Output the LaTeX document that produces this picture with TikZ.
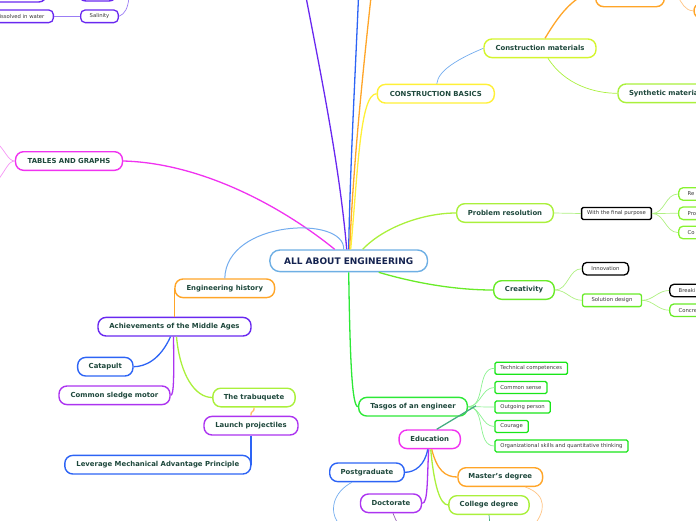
\documentclass[tikz,border=0pt]{standalone}
\usepackage{fontspec}
\setmainfont{DejaVu Sans}
\usetikzlibrary{calc}

%colours of the map
\definecolor{txtgreen}{RGB}{30,72,60}
\definecolor{txtnavy}{RGB}{20,35,80}
\definecolor{txtgray}{RGB}{55,55,55}
\definecolor{cblue}{RGB}{110,175,228}
\definecolor{lblue}{RGB}{115,172,238}
\definecolor{mblue}{RGB}{45,100,245}
\definecolor{mpurple}{RGB}{105,40,240}
\definecolor{vpurple}{RGB}{172,52,240}
\definecolor{lpurple}{RGB}{155,125,245}
\definecolor{mmagenta}{RGB}{240,50,240}
\definecolor{lmagenta}{RGB}{245,150,245}
\definecolor{morange}{RGB}{255,165,40}
\definecolor{lorange}{RGB}{255,195,130}
\definecolor{myellow}{RGB}{255,240,55}
\definecolor{ygreen}{RGB}{212,245,45}
\definecolor{lime}{RGB}{170,240,60}
\definecolor{mgreen}{RGB}{105,235,40}
\definecolor{bgreen}{RGB}{45,232,55}
\definecolor{tgreen}{RGB}{25,230,25}
\definecolor{lgreen}{RGB}{175,240,130}
\definecolor{mteal}{RGB}{70,172,130}

\tikzset{
  bigbox/.style={draw, line width=1.4pt, rounded corners=8pt, fill=white,
    minimum height=18.6pt, inner xsep=5pt, text=txtgreen,
    font=\fontsize{6.9}{8}\selectfont\bfseries},
  roundsmall/.style={draw, line width=1.3pt, rounded corners=4.5pt, fill=white,
    minimum height=12.6pt, inner xsep=9pt, text=txtgray,
    font=\fontsize{5.3}{6}\selectfont},
  rectsmall/.style={draw, line width=1.3pt, rounded corners=1.5pt, fill=white,
    minimum height=12pt, inner xsep=5.5pt, text=txtgray,
    font=\fontsize{5.3}{6}\selectfont},
  link/.style={line width=1.3pt},
  sublink/.style={line width=0.7pt}
}

\begin{document}
\begin{tikzpicture}[x=1pt,y=-1pt]
\useasboundingbox (0,0) rectangle (696,520);

%the centre
\node[bigbox, draw=cblue, text=txtnavy, minimum width=157.6pt, minimum height=21.6pt,
  rounded corners=10pt, font=\fontsize{9}{10}\selectfont\bfseries] (central) at (348.7,260.8) {ALL ABOUT ENGINEERING};

%top left, cut by the edge
\node[bigbox, draw=mpurple, minimum width=80pt, minimum height=24pt] (pa) at (6.7,-10) {};
\node[bigbox, draw=mpurple, minimum width=39pt, minimum height=22pt] (pb) at (97.5,-10) {};
\node[roundsmall, draw=mpurple] (salinity) at (99.5,16.3) {Salinity};
\node[roundsmall, draw=mpurple, anchor=east] (dissolved) at (54,16.3) {Dissolved in water};
\coordinate (csal) at (129,-3);
\draw[sublink, lpurple] (salinity.west) -- (dissolved.east);
\draw[sublink, lpurple] (salinity.east) .. controls (125,14) and (128,8) .. (csal);

%tables
\node[bigbox, draw=mmagenta, minimum width=107pt] (tables) at (69,161) {TABLES AND GRAPHS};
\coordinate (ctab1) at (-3,143);
\coordinate (ctab2) at (-3,181);
\draw[sublink, lmagenta] (tables.west) .. controls (8,161) and (5,150) .. (ctab1);
\draw[sublink, lmagenta] (tables.west) .. controls (8,161) and (5,172) .. (ctab2);
\draw[link, mmagenta] (tables.east) .. controls (200,163) and (280,205) .. ($(central.north)+(-14,0)$);

%the lines going up
\coordinate (ctop1) at (306,-3);
\coordinate (ctop2) at (358.5,-3);
\coordinate (ctop3) at (371,-3);
\draw[link, mpurple] ($(central.north)+(-2,0)$) .. controls (340,170) and (322,80) .. (ctop1);
\draw[link, mblue] (central.north) .. controls (350,170) and (355,80) .. (ctop2);
\draw[link, morange] ($(central.north)+(1,0)$) .. controls (353,170) and (362,80) .. (ctop3);

%construction
\node[bigbox, draw=myellow, minimum width=117pt] (constr) at (435.8,93.7) {CONSTRUCTION BASICS};
\node[bigbox, draw=ygreen, minimum width=112pt] (constrmat) at (540,48.3) {Construction materials};
\node[bigbox, draw=lime, anchor=west, text width=100pt, align=left, inner xsep=11pt] (synth) at (617.3,93.3) {Synthetic materials};
\node[bigbox, draw=morange, minimum width=68.6pt, minimum height=30pt] (ortop) at (630,-8.3) {};
\node[bigbox, draw=morange, anchor=west, minimum width=60pt, minimum height=13.6pt, rounded corners=6pt] (orright) at (693.4,10.8) {};
\coordinate (ctop4) at (580,-3);
\coordinate (ctop5) at (678,-3);
\draw[link, myellow] ($(central.north)+(2,0)$) .. controls (358,170) and (360,93.7) .. (constr.west);
\draw[sublink, lblue] ($(constr.north)+(1,0)$) .. controls (438,70) and (460,58) .. (constrmat.west);
\draw[link, morange] ($(constrmat.north)+(5,0)$) .. controls (556,20) and (566,6) .. (ctop4);
\draw[sublink, lime] ($(constrmat.south)+(8,0)$) .. controls (565,85) and (595,93.3) .. (synth.west);
\draw[sublink, lorange] (orright.west) .. controls (685,10.8) and (682,3) .. (ctop5);

%problem resolution
\node[bigbox, draw=lime, minimum width=96.6pt] (prob) at (505,213) {Problem resolution};
\node[rectsmall, draw=black, minimum width=69.6pt] (final) at (616.5,213.5) {With the final purpose};
\node[roundsmall, draw=lime!80!green, anchor=west, text width=30pt, align=left] (re) at (678,194) {Re};
\node[roundsmall, draw=lime!80!green, anchor=west, text width=30pt, align=left] (pro) at (678,213.3) {Pro};
\node[roundsmall, draw=lime!80!green, anchor=west, text width=30pt, align=left] (co) at (678,232.5) {Co};
\draw[link, lime] ($(central.north)+(14,0)$) .. controls (385,226) and (425,213) .. (prob.west);
\draw[sublink, lgreen] (prob.east) -- (final.west);
\foreach \n in {re,pro,co}
  \draw[sublink, lgreen] (final.east) to[out=0,in=180] (\n.west);

%creativity
\node[bigbox, draw=mgreen, minimum width=60.6pt] (creat) at (524,290) {Creativity};
\node[roundsmall, draw=black, minimum width=46.2pt] (innov) at (605.5,268.7) {Innovation};
\node[roundsmall, draw=mgreen, minimum width=58.6pt, rounded corners=2pt] (sol) at (612,300.3) {Solution design};
\node[roundsmall, draw=black, anchor=west, text width=30pt, align=left] (breaki) at (669,290.5) {Breaki};
\node[roundsmall, draw=mgreen, anchor=west, text width=30pt, align=left] (concre) at (669,310.2) {Concre};
\draw[link, mgreen] ($(central.south)+(30,0)$) .. controls (415,283) and (455,290) .. (creat.west);
\draw[sublink, lgreen] (creat.east) to[out=0,in=180] (innov.west);
\draw[sublink, lgreen] (creat.east) to[out=0,in=180] (sol.west);
\draw[sublink, lgreen] (sol.east) to[out=0,in=180] (breaki.west);
\draw[sublink, lgreen] (sol.east) to[out=0,in=180] (concre.west);

%the engineer
\node[bigbox, draw=bgreen, minimum width=108.6pt] (tasgos) at (413,406.7) {Tasgos of an engineer};
\node[rectsmall, draw=tgreen, anchor=west] (t1) at (494.3,368.3) {Technical competences};
\node[rectsmall, draw=tgreen, anchor=west] (t2) at (494.3,387.5) {Common sense};
\node[rectsmall, draw=tgreen, anchor=west] (t3) at (494.3,407) {Outgoing person};
\node[rectsmall, draw=tgreen, anchor=west] (t4) at (494.3,426.5) {Courage};
\node[rectsmall, draw=tgreen, anchor=west] (t5) at (494.3,446) {Organizational skills and quantitative thinking};
\draw[link, bgreen] (central.south) .. controls (350,360) and (352,406.7) .. (tasgos.west);
\foreach \n in {t1,t2,t3,t4,t5}
  \draw[sublink, bgreen!55!white] (tasgos.east) to[out=0,in=180] (\n.west);

%education
\node[bigbox, draw=mmagenta, minimum width=61.3pt] (educ) at (429.7,439.3) {Education};
\node[bigbox, draw=mblue, minimum width=74.6pt] (post) at (367,472.3) {Postgraduate};
\node[bigbox, draw=vpurple, minimum width=61pt] (doct) at (391,503.3) {Doctorate};
\node[bigbox, draw=morange, minimum width=84.6pt] (master) at (500.3,477) {Master's degree};
\node[bigbox, draw=lime, minimum width=80.3pt] (college) at (489,505) {College degree};
\draw[link, mteal] ($(tasgos.east)+(8,-1)$) -- ($(educ.north)+(7,0)$);
\draw[link, mblue] ($(educ.south)+(-2,0)$) .. controls (425,465) and (415,472.3) .. (post.east);
\draw[link, vpurple] ($(educ.south)+(-1,0)$) .. controls (427,480) and (428,503.3) .. (doct.east);
\draw[link, morange] ($(educ.south)+(2,0)$) .. controls (437,470) and (445,477) .. (master.west);
\draw[link, lime] ($(educ.south)+(1,0)$) .. controls (434,485) and (440,505) .. (college.west);
%going down out of the picture
\coordinate (cb1) at (340,525);
\coordinate (cb2) at (398,525);
\coordinate (cb3) at (490,525);
\coordinate (cb4) at (534,525);
\draw[sublink, lblue] ($(post.south)+(-15,0)$) .. controls (333,492) and (328,512) .. (cb1);
\draw[sublink, vpurple!45!gray] ($(doct.south)+(2,0)$) .. controls (394,517) and (396,519) .. (cb2);
\draw[sublink, mteal] (college.south) -- (cb3);
\draw[sublink, lorange] ($(master.south)+(25,0)$) .. controls (548,495) and (545,512) .. (cb4);

%history
\node[bigbox, draw=morange, minimum width=99.6pt] (hist) at (224.8,288.3) {Engineering history};
\node[bigbox, draw=mpurple, minimum width=153pt] (achieve) at (174.5,326.7) {Achievements of the Middle Ages};
\node[bigbox, draw=mblue, minimum width=55.3pt] (catapult) at (105.3,366.7) {Catapult};
\node[bigbox, draw=vpurple, minimum width=111pt] (sledge) at (114.5,395.3) {Common sledge motor};
\node[bigbox, draw=lime, minimum width=82.3pt] (trabuq) at (254,397.5) {The trabuquete};
\node[bigbox, draw=vpurple, minimum width=94pt] (launch) at (251,425.7) {Launch projectiles};
\node[bigbox, draw=mblue, minimum width=186pt, anchor=east] (lever) at (251.5,464.7) {Leverage Mechanical Advantage Principle};
\draw[sublink, lblue, line width=1pt] (hist.north) .. controls (226,220) and (345,215) .. ($(central.north)+(-5,0)$);
\draw[link, morange] (hist.west) -- (hist.west |- achieve.north);
\draw[link, mblue] ($(achieve.south)+(-4,0)$) .. controls (160,360) and (145,366.7) .. (catapult.east);
\draw[link, vpurple] ($(achieve.south)+(-1,0)$) .. controls (174,375) and (174,395.3) .. (sledge.east);
\draw[link, lime] ($(achieve.south)+(2,0)$) .. controls (180,375) and (195,397.5) .. (trabuq.west);
\draw[link, morange!70!white] (trabuq.south) .. controls (255,413) and (250,410) .. (launch.north);
\draw[link, mblue] (launch.south) -- (launch.south |- lever.east);
\end{tikzpicture}
\end{document}
